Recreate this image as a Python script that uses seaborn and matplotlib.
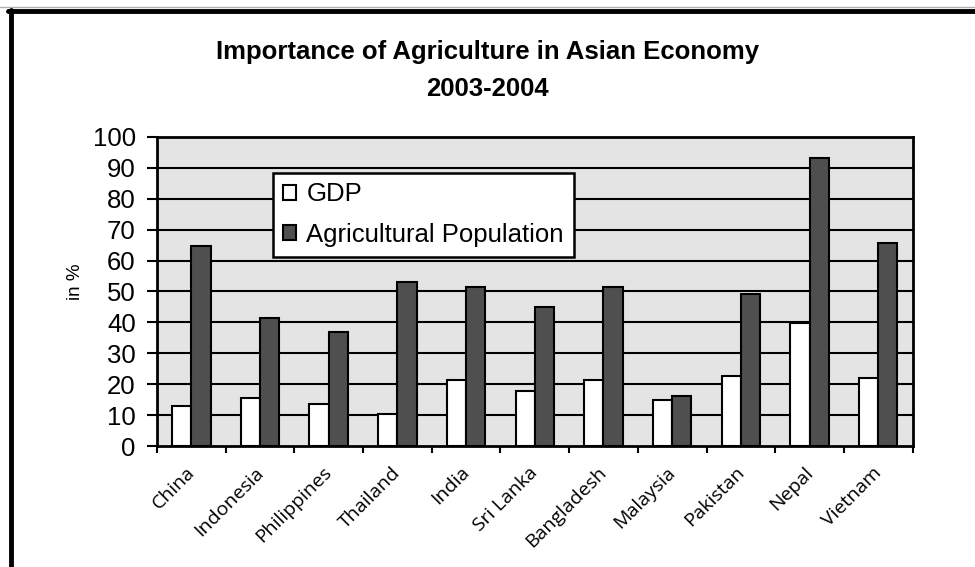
import numpy as np
import pandas as pd
import matplotlib
matplotlib.use("Agg")
import matplotlib.pyplot as plt
import matplotlib.transforms as mtransforms
from matplotlib.lines import Line2D
import seaborn as sns

# --- data ---
countries = ["China", "Indonesia", "Philippines", "Thailand", "India", "Sri Lanka",
             "Bangladesh", "Malaysia", "Pakistan", "Nepal", "Vietnam"]
gdp = [13, 15.5, 13.5, 10.3, 21.4, 17.9, 21.4, 14.9, 22.5, 39.8, 22]
agri_pop = [64.6, 41.4, 36.9, 53.1, 51.6, 45.1, 51.6, 16.2, 49.2, 93.1, 65.8]
series = ["GDP", "Agricultural Population"]

df = pd.DataFrame({
    "country": countries * 2,
    "series": [series[0]] * len(countries) + [series[1]] * len(countries),
    "value": gdp + agri_pop,
})

sns.set_style("ticks")
plt.rcParams["font.family"] = ["Liberation Sans", "DejaVu Sans"]
plt.rcParams["text.color"] = "black"
plt.rcParams["axes.labelcolor"] = "black"
plt.rcParams["xtick.color"] = "black"
plt.rcParams["ytick.color"] = "black"

fig = plt.figure(figsize=(9.75, 5.67), dpi=100)
ax = fig.add_axes([0.161, 0.2134, 0.775, 0.545])
ax.set_facecolor("#e4e4e4")

sns.barplot(data=df, x="country", y="value", hue="series", order=countries,
            hue_order=series, palette=["white", "#4f4f4f"], width=0.56, gap=0,
            edgecolor="black", linewidth=1.5, saturation=1, ax=ax, zorder=3)

ax.set_ylim(0, 100)
ax.set_xlim(-0.5, len(countries) - 0.5)
ax.set_yticks(np.arange(0, 101, 10))
ax.tick_params(axis="y", labelsize=18.5, length=7.2, width=1.5, pad=8)
for y in range(10, 100, 10):
    ax.axhline(y, color="black", lw=1.5, zorder=1)

# category labels, ticks between categories
ax.set_xticks(range(len(countries)))
ax.set_xticklabels(countries, rotation=45, ha="right", rotation_mode="anchor",
                   family="Open Sans", fontsize=14)
ax.tick_params(axis="x", length=0, pad=9)
shift = mtransforms.ScaledTranslation(-6 / 100, -5 / 100, fig.dpi_scale_trans)
for lab in ax.get_xticklabels():
    lab.set_transform(lab.get_transform() + shift)
ax.set_xticks(np.arange(-0.5, len(countries), 1), minor=True)
ax.tick_params(axis="x", which="minor", length=5, width=1.5)

ax.set_xlabel("")
ax.set_ylabel("in %", fontsize=13.5)
ax.yaxis.set_label_coords(-0.097, 0.53)
for s in ax.spines.values():
    s.set_visible(True)
    s.set_color("black")
    s.set_linewidth(2)

leg = ax.legend(loc="upper left", bbox_to_anchor=(0.1535, 0.885), fontsize=18.5,
                frameon=True, fancybox=False, edgecolor="black", framealpha=1,
                handlelength=0.52, handleheight=0.52, handletextpad=0.4,
                labelspacing=0.65, borderpad=0.38, borderaxespad=0)
leg.get_frame().set_linewidth(1.8)
for h in leg.legend_handles:
    h.set_edgecolor("black")
    h.set_linewidth(1.5)

fig.suptitle("Importance of Agriculture in Asian Economy\n2003-2004", y=0.93,
             fontsize=18.5, fontweight="bold", linespacing=1.7)

# frame of the original chart (top and left edges)
fig.add_artist(Line2D([0, 1], [1 - 7 / 567] * 2, transform=fig.transFigure, color="#b0b0b0", lw=1))
fig.add_artist(Line2D([8 / 975, 1], [1 - 11 / 567] * 2, transform=fig.transFigure, color="black", lw=3.5))
fig.add_artist(Line2D([10.5 / 975] * 2, [0, 1 - 9.5 / 567], transform=fig.transFigure, color="black", lw=3.5))

fig.savefig("out.png", dpi=100, facecolor="white")
